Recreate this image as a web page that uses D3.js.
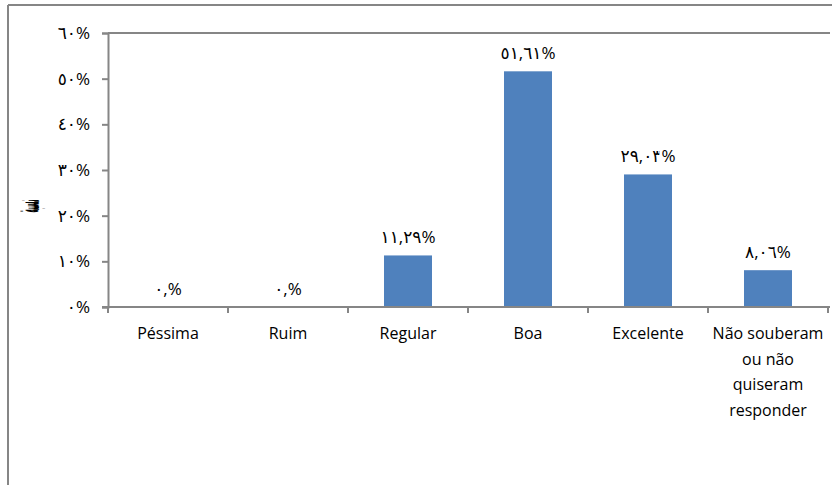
<!DOCTYPE html>
<html>
<head>
<meta charset="utf-8">
<script src="https://cdn.jsdelivr.net/npm/d3@7"></script>
<style>
  html, body { margin: 0; padding: 0; background: #fff; }
  svg { display: block; }
  text { font-family: "Open Sans", "DejaVu Sans", sans-serif; fill: #000; }
</style>
</head>
<body>
<svg id="chart" width="832" height="485"></svg>
<script>
// Rating categories and their shares (%)
const categories = ["Péssima", "Ruim", "Regular", "Boa", "Excelente", "Não souberam ou não quiseram responder"];
const values = [0, 0, 11.29, 51.61, 29.03, 8.06];
const valueLabels = ["٠,%", "٠,%", "١١,٢٩%", "٥١,٦١%", "٢٩,٠٣%", "٨,٠٦%"];
const tickValues = [0, 10, 20, 30, 40, 50, 60];
const tickLabels = ["٠%", "١٠%", "٢٠%", "٣٠%", "٤٠%", "٥٠%", "٦٠%"];
const categoryLines = [["Péssima"], ["Ruim"], ["Regular"], ["Boa"], ["Excelente"], ["Não souberam", "ou não", "quiseram", "responder"]];
const yTitle = "نسبة";

const svg = d3.select("#chart");
const axisColor = "#868686";
const barColor = "#4f81bd";

const plot = { left: 108, right: 828, top: 33, bottom: 307 };

const x = d3.scaleBand().domain(categories).range([plot.left, plot.right]).paddingInner(0.6).paddingOuter(0.3);
const xBand = d3.scaleBand().domain(categories).range([plot.left, plot.right]);
const y = d3.scaleLinear().domain([0, 60]).range([plot.bottom, plot.top]);

// Outer chart frame (top and left edges)
svg.append("line").attr("x1", 8).attr("x2", 832).attr("y1", 5).attr("y2", 5)
  .attr("stroke", axisColor).attr("stroke-width", 2);
svg.append("line").attr("x1", 8).attr("x2", 8).attr("y1", 5).attr("y2", 485)
  .attr("stroke", axisColor).attr("stroke-width", 2);

// Plot area top edge
svg.append("line").attr("x1", plot.left).attr("x2", 830).attr("y1", plot.top).attr("y2", plot.top)
  .attr("stroke", axisColor).attr("stroke-width", 2);

// Y axis
const yAxis = d3.axisLeft(y).tickValues(tickValues)
  .tickFormat((d, i) => tickLabels[i]).tickSize(6).tickPadding(12);
const gy = svg.append("g").attr("transform", `translate(${plot.left},0)`).call(yAxis);
gy.select(".domain").attr("stroke", axisColor).attr("stroke-width", 2);
gy.selectAll(".tick line").attr("stroke", axisColor).attr("stroke-width", 2);
gy.selectAll(".tick text").attr("font-size", 17).style("font-family", "'Open Sans', 'DejaVu Sans', sans-serif").attr("fill", "#000");

// Bars
svg.append("g").selectAll("rect").data(values).join("rect")
  .attr("x", (d, i) => x(categories[i]))
  .attr("width", x.bandwidth())
  .attr("y", d => y(d))
  .attr("height", d => y(0) - y(d))
  .attr("fill", barColor);

// X axis with ticks between categories
const gx = svg.append("g").attr("transform", `translate(0,${plot.bottom})`);
gx.append("line").attr("x1", plot.left - 6).attr("x2", 830).attr("y1", 0).attr("y2", 0)
  .attr("stroke", axisColor).attr("stroke-width", 2);
const boundaries = categories.map(c => xBand(c)).concat([xBand(categories[categories.length - 1]) + xBand.bandwidth()]);
gx.selectAll("line.tick").data(boundaries).join("line").attr("class", "tick")
  .attr("x1", d => d).attr("x2", d => d).attr("y1", 0).attr("y2", 6)
  .attr("stroke", axisColor).attr("stroke-width", 2);

// Category labels
const labels = gx.selectAll("text.cat").data(categoryLines).join("text").attr("class", "cat")
  .attr("text-anchor", "middle").attr("font-size", 16)
  .attr("transform", (d, i) => `translate(${xBand(categories[i]) + xBand.bandwidth() / 2},32)`);
labels.selectAll("tspan").data(d => d).join("tspan")
  .attr("x", 0).attr("dy", (d, i) => i === 0 ? 0 : 25.5).text(d => d);

// Value labels above bars (white halo behind text)
svg.append("g").selectAll("text").data(values).join("text")
  .attr("x", (d, i) => x(categories[i]) + x.bandwidth() / 2)
  .attr("y", d => y(d) - 12)
  .attr("text-anchor", "middle").attr("font-size", 17)
  .style("paint-order", "stroke").attr("stroke", "#fff").attr("stroke-width", 6)
  .text((d, i) => valueLabels[i]);

// Y axis title
svg.append("text").attr("transform", "translate(39,206) rotate(-90)")
  .attr("text-anchor", "middle").attr("font-size", 36).attr("font-weight", "bold")
  .attr("textLength", 13).attr("lengthAdjust", "spacingAndGlyphs")
  .style("font-family", "'DejaVu Sans', sans-serif")
  .text(yTitle);
</script>
</body>
</html>
